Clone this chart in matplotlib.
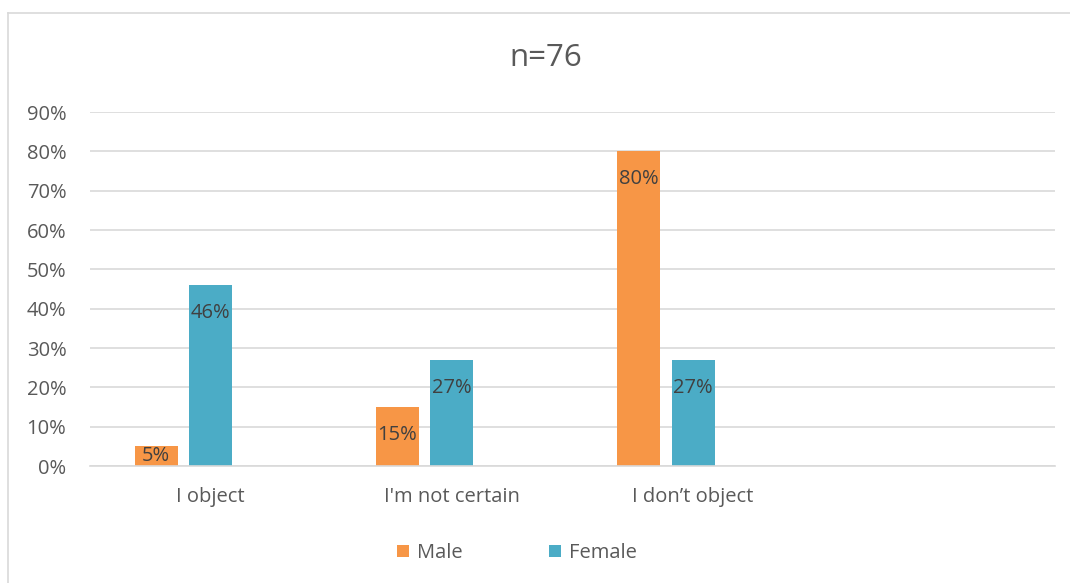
import numpy as np
import matplotlib
matplotlib.use("Agg")
import matplotlib.pyplot as plt
from matplotlib.lines import Line2D

# данные
categories = ["I object", "I'm not certain", "I don\u2019t object", ""]
male = [0.05, 0.15, 0.80, np.nan]
female = [0.46, 0.27, 0.27, np.nan]
yticks = [0.0, 0.1, 0.2, 0.3, 0.4, 0.5, 0.6, 0.7, 0.8, 0.9]

plt.rcParams['font.family'] = ['Open Sans', 'DejaVu Sans']
grey = "#595959"
c_male = "#F79646"
c_female = "#4BACC6"

fig = plt.figure(figsize=(10.7, 5.83), dpi=100)
ax = fig.add_axes([90/1070, 1 - 466/583, 965/1070, 354/583])

x = np.arange(len(categories))
w = 0.178
b1 = ax.bar(x - 0.226, male, w, color=c_male, label="Male")
b2 = ax.bar(x, female, w, color=c_female, label="Female")

# подписи на столбцах
for xs, vals in [(x - 0.226, male), (x, female)]:
    for xi, v in zip(xs, vals):
        if np.isnan(v):
            continue
        ax.text(xi, max(v - 0.071, v / 2), f"{v*100:.0f}%", ha="center", va="center",
                fontsize=14.5, color="#404040")

ax.set_xlim(-0.5, len(categories) - 0.5)
ax.set_ylim(0, 0.9)
ax.set_yticks(yticks)
ax.set_yticklabels([f"{t*100:.0f}%" for t in yticks])
ax.set_xticks(x)
ax.set_xticklabels(categories)
ax.tick_params(length=0, labelsize=14.5, labelcolor=grey)
ax.tick_params(axis="x", pad=15)
ax.tick_params(axis="y", pad=17)
ax.grid(axis="y", color="#D9D9D9", linewidth=1.2)
ax.set_axisbelow(True)
for s in ["top", "right", "left"]:
    ax.spines[s].set_visible(False)
ax.spines["bottom"].set_color("#D9D9D9")
ax.spines["bottom"].set_linewidth(1.2)

fig.text(546/1070, 1 - 58/583, "n=76", ha="center", va="center", fontsize=22.5, color=grey)

fig.legend(handles=[b1, b2], labels=["Male", "Female"], loc="center",
           bbox_to_anchor=(517/1070, 1 - 553/583), ncol=2, frameon=False,
           fontsize=14.5, labelcolor=grey, handlelength=0.6, handleheight=0.6,
           handletextpad=0.4, columnspacing=4.3)

# рамка
fig.add_artist(Line2D([8/1070, 8/1070], [0, 1 - 13/583], color="#D9D9D9", linewidth=1.2))
fig.add_artist(Line2D([8/1070, 1], [1 - 13/583, 1 - 13/583], color="#D9D9D9", linewidth=1.2))

fig.savefig("out.png", dpi=100)
